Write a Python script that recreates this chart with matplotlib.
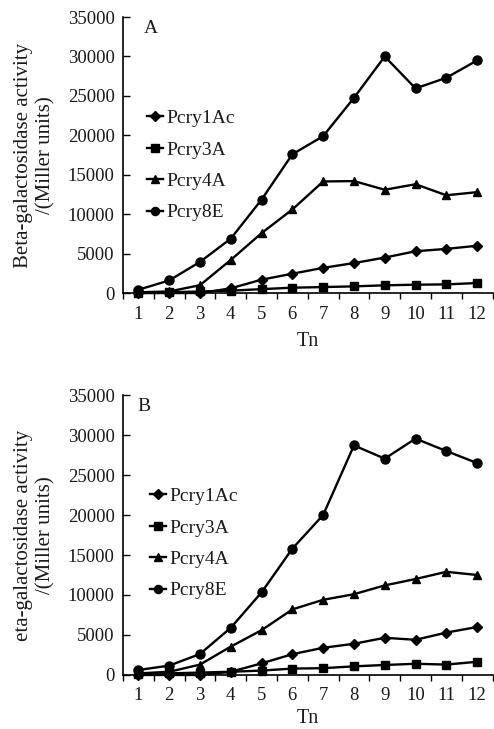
import matplotlib
matplotlib.use("Agg")
import matplotlib.pyplot as plt
import numpy as np

tn = list(range(1, 13))
series_names = ["Pcry1Ac", "Pcry3A", "Pcry4A", "Pcry8E"]

# Panel A
a_cry1ac = [0, 0, 0, 600, 1700, 2450, 3200, 3800, 4500, 5300, 5600, 6000]
a_cry3a = [0, 100, 200, 300, 500, 680, 760, 850, 980, 1060, 1100, 1270]
a_cry4a = [100, 200, 1000, 4200, 7600, 10600, 14150, 14200, 13100, 13800, 12400, 12800]
a_cry8e = [420, 1600, 3950, 6900, 11850, 17600, 19900, 24750, 30000, 25950, 27300, 29500]

# Panel B
b_cry1ac = [0, 0, 0, 400, 1450, 2600, 3400, 3900, 4650, 4400, 5300, 6000]
b_cry3a = [100, 200, 300, 400, 550, 800, 850, 1080, 1250, 1400, 1300, 1650]
b_cry4a = [200, 400, 1300, 3550, 5600, 8200, 9400, 10100, 11200, 12000, 12900, 12500]
b_cry8e = [625, 1170, 2625, 5900, 10330, 15800, 20000, 28700, 27050, 29550, 28000, 26500]

yticks = [0, 5000, 10000, 15000, 20000, 25000, 30000, 35000]
markers = ["D", "s", "^", "o"]
msizes = [5.5, 6, 6, 6.5]

plt.rcParams['font.family'] = ['Liberation Serif', 'DejaVu Serif']
tc = '#1a1a1a'

fig = plt.figure(figsize=(4.94, 7.29), dpi=100)

panels = [
    ([0.249, 0.598, 0.748, 0.3786], [a_cry1ac, a_cry3a, a_cry4a, a_cry8e], "A", (0.055, 0.99),
     "Beta-galactosidase activity\n/(Miller units)", (0.064, 0.462), 7),
    ([0.249, 0.0741, 0.748, 0.384], [b_cry1ac, b_cry3a, b_cry4a, b_cry8e], "B", (0.038, 0.99),
     "eta-galactosidase activity\n/(Miller units)", (0.072, 0.470), 3),
]

for rect, data, letter, letpos, ylabel, legpos, xpad in panels:
    ax = fig.add_axes(rect)
    handles = []
    for vals, name, m, ms in zip(data, series_names, markers, msizes):
        h, = ax.plot(tn, vals, color='black', lw=1.7, marker=m, ms=ms,
                     markerfacecolor='black', markeredgecolor='black', label=name,
                     clip_on=False, zorder=3)
        handles.append(h)
    ax.set_xlim(0.5, 12.5)
    ax.set_ylim(0, 35000)
    ax.set_yticks(yticks)
    ax.set_yticklabels([str(v) for v in yticks], fontsize=13.5, color=tc)
    ax.set_xticks(tn)
    ax.set_xticklabels([str(t) for t in tn], fontsize=13.5, color=tc)
    ax.set_xticks(np.arange(0.5, 13.0, 1.0), minor=True)
    ax.tick_params(axis='x', which='major', length=0, pad=9)
    ax.tick_params(axis='x', which='minor', direction='out', length=4, width=1)
    ax.tick_params(axis='y', which='major', direction='in', length=5, width=1, pad=6)
    for s in ['top', 'right']:
        ax.spines[s].set_visible(False)
    ax.spines['left'].set_linewidth(1.2)
    ax.spines['bottom'].set_linewidth(1.2)
    ax.set_xlabel("Tn", fontsize=14.5, color=tc, labelpad=xpad)
    ax.set_ylabel(ylabel, fontsize=15, color=tc, labelpad=9, linespacing=1.2)
    ax.text(letpos[0], letpos[1], letter, transform=ax.transAxes, fontsize=14,
            color=tc, va='top', ha='left')
    leg = ax.legend(handles=handles, loc='center left', bbox_to_anchor=legpos,
                    frameon=False, fontsize=14, handlelength=0.85,
                    handletextpad=0.15, labelspacing=0.71, borderaxespad=0,
                    borderpad=0, markerscale=0.9)
    for t in leg.get_texts():
        t.set_color(tc)

fig.savefig("out.png", dpi=100)
